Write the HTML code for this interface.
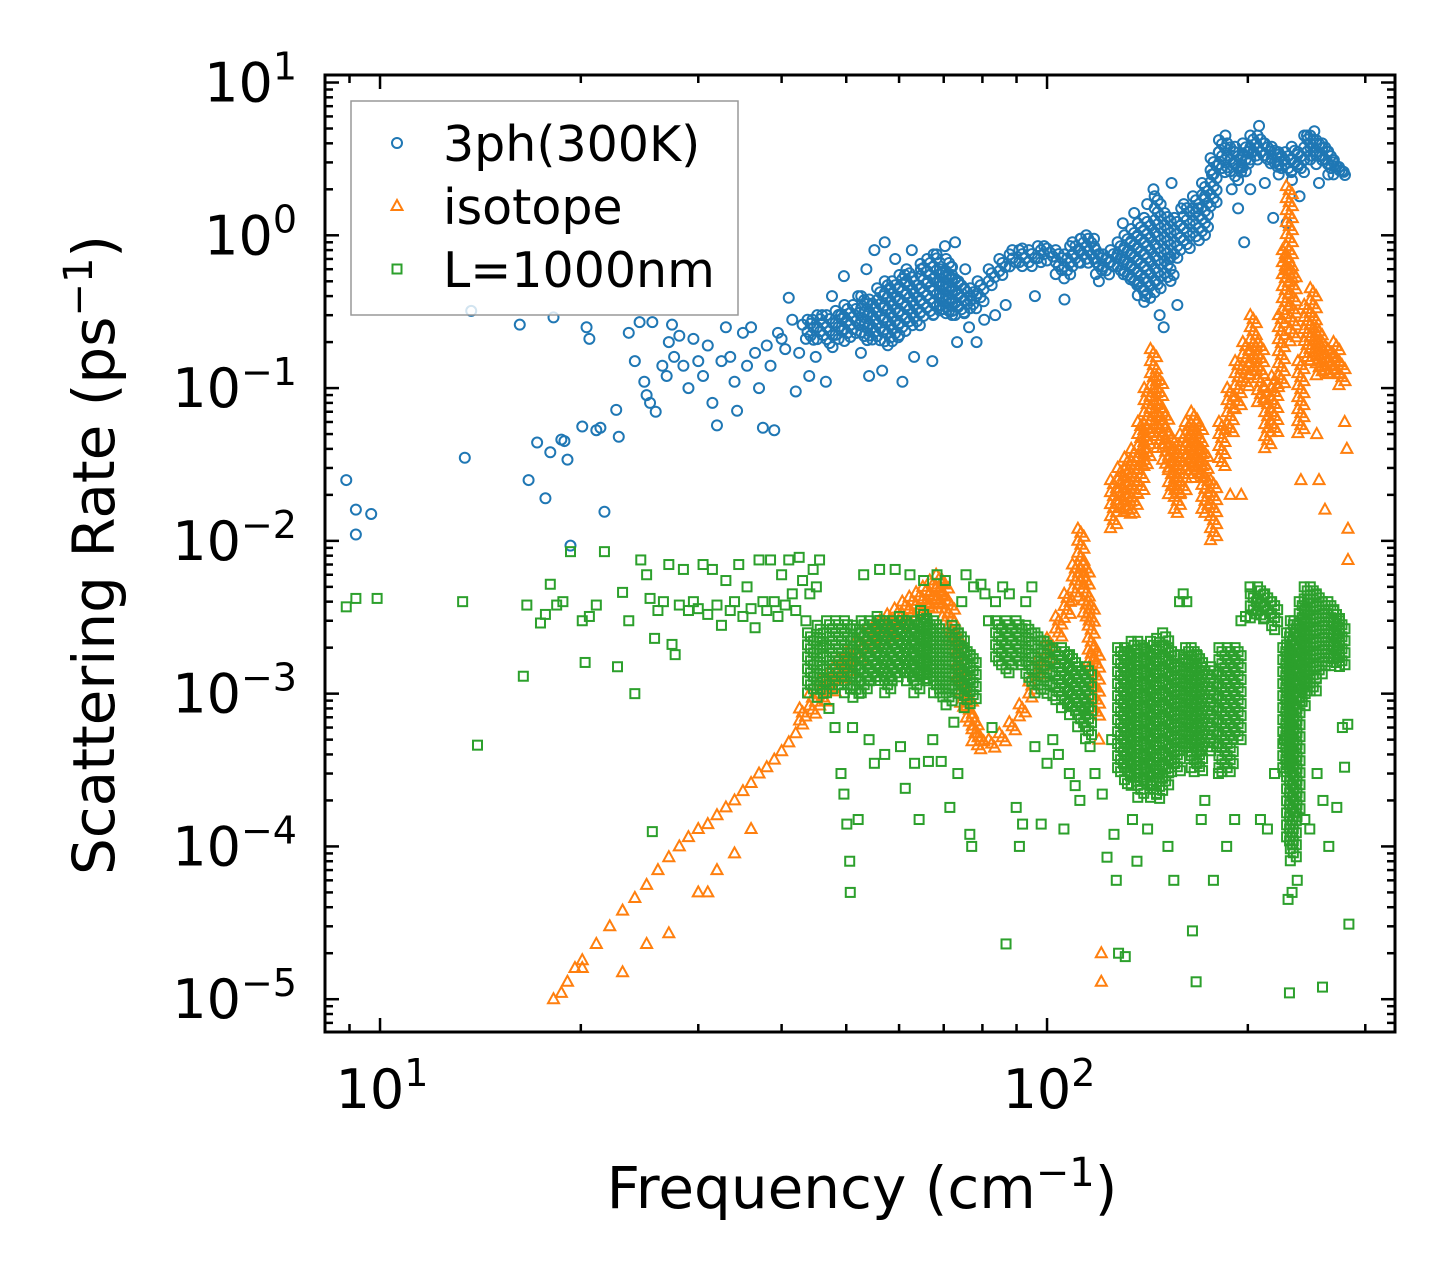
<!DOCTYPE html>
<html><head><meta charset="utf-8">
<style>
html,body{margin:0;padding:0;background:#fff;}
svg{display:block;font-family:"DejaVu Sans","Liberation Sans",sans-serif;}
</style></head>
<body>
<svg id="chart" width="1455" height="1282" viewBox="0 0 1455 1282" xmlns="http://www.w3.org/2000/svg">
<rect width="1455" height="1282" fill="#fff"/>
<g id="marks"></g>
<g id="axes"></g>
</svg>
<script>
// ---- axis domains ----
const xDomain = [8.27, 332.4];
const yDomain = [6.1e-6, 11.2];
const xTickValues = [10, 100];
const xTickLabels = ["1", "2"];
const yTickValues = [10, 1, 0.1, 0.01, 0.001, 0.0001, 0.00001];
const yTickLabels = ["1", "0", "\u22121", "\u22122", "\u22123", "\u22124", "\u22125"];

// ---- 3ph (300K): scattered points [freq, rate] ----
const threePhPoints = [[8.9,0.025],[9.2,0.016],[9.2,0.011],[9.7,0.015],[13.4,0.035],[13.7,0.32],[16.2,0.26],[16.7,0.025],[17.2,0.044],[17.7,0.019],[18.0,0.038],[18.2,0.29],[18.7,0.046],[18.9,0.045],[19.1,0.034],[19.3,0.0093],[20.1,0.056],[20.4,0.25],[20.6,0.21],[21.1,0.053],[21.4,0.055],[21.7,0.0155],[22.6,0.072],[22.8,0.048],[23.6,0.23],[24.1,0.15],[24.5,0.27],[24.9,0.11],[25.1,0.09],[25.4,0.08],[25.6,0.27],[25.9,0.07],[26.5,0.14],[26.9,0.12],[27.1,0.2],[27.4,0.26],[27.6,0.16],[28.1,0.22],[28.5,0.14],[29.0,0.1],[29.5,0.21],[30.0,0.15],[30.5,0.12],[31.0,0.19],[31.5,0.08],[32.0,0.057],[32.5,0.15],[33.0,0.25],[33.5,0.16],[34.0,0.11],[34.3,0.071],[35.0,0.23],[35.5,0.14],[36.0,0.25],[36.5,0.17],[37.0,0.1],[37.5,0.055],[38.0,0.19],[38.5,0.14],[39.0,0.053],[39.5,0.23],[40.0,0.21],[40.5,0.18],[41.0,0.39],[41.5,0.28],[42.0,0.095],[42.5,0.17],[43.0,0.26],[43.5,0.21],[44.0,0.12],[44.5,0.28],[45.0,0.16],[46.0,0.3],[46.6,0.11],[47.6,0.4],[49.1,0.3],[49.6,0.54],[52.1,0.4],[52.6,0.17],[53.6,0.6],[54.1,0.12],[55.1,0.8],[56.6,0.13],[57.1,0.9],[58.1,0.45],[59.2,0.7],[60.7,0.11],[61.2,0.55],[62.7,0.8],[63.2,0.16],[64.7,0.6],[66.3,0.5],[67.3,0.15],[68.3,0.75],[70.3,0.85],[71.8,0.62],[72.8,0.9],[73.3,0.2],[75.4,0.6],[76.4,0.25],[78.4,0.2],[80.5,0.28],[83.6,0.3],[86.7,0.35],[88.7,0.8],[91.8,0.82],[95.9,0.4],[99,0.85],[106.2,0.38],[108.3,0.85],[112.4,0.95],[114.5,1.0],[117.6,0.95],[119.6,0.5],[129.9,1.2],[135.1,1.4],[137.2,0.5],[140.3,0.4],[141.3,1.6],[144.4,2.0],[145.4,0.5],[147.5,0.3],[149.6,0.25],[152.7,0.7],[153.7,2.2],[154.8,0.55],[156.8,0.35],[158.9,1.5],[168.3,1.5],[172.5,1.8],[176.7,2.5],[180.9,3.5],[185.1,4.5],[189.2,2.0],[191.3,3.8],[193.4,1.5],[195.5,2.8],[197.5,0.9],[199.6,3.5],[201.7,2.0],[207.9,5.2],[212.1,2.2],[218.3,1.3],[222.5,2.5],[228.7,1.2],[232.9,2.3],[239.1,1.8],[245.3,4.5],[251.6,4.8],[255.7,2.2],[264,2.5],[278.5,2.6]];
// ---- 3ph dense band: freq, lower, upper ----
const threePhBandF = [44.2,45.7,47.2,48.7,50.2,51.7,53.2,54.7,56.2,57.7,59.2,60.7,62.2,63.8,65.3,66.8,68.3,69.8,71.3,72.8,74.4,75.9,77.5,79.5,82.6,85.7,88.8,91.8,94.9,97.9,101,104.1,107.2,110.3,113.4,116.5,119.6,122.6,125.8,128.9,132,135.1,138.2,141.3,146.5,151.6,156.8,162,167.2,172.5,177.7,182.9,188.2,193.4,198.6,203.8,209,214.2,219.4,224.6,229.9,235.1,240.3,245.5,250.7,255.9,261.2,266.4,271.6,276.8];
const threePhBandLo = [0.2,0.2,0.18,0.2,0.2,0.22,0.2,0.2,0.2,0.18,0.2,0.22,0.25,0.25,0.28,0.3,0.3,0.3,0.3,0.3,0.3,0.3,0.32,0.35,0.45,0.55,0.6,0.62,0.62,0.65,0.65,0.55,0.5,0.6,0.65,0.65,0.55,0.55,0.6,0.55,0.5,0.45,0.4,0.35,0.4,0.5,0.7,0.8,0.9,1.0,1.5,2.5,2.5,2.2,2.5,3,3,2.8,2.8,2.6,2.5,2.6,2.5,3,3,2.8,2.8,2.6,2.5,2.4];
const threePhBandHi = [0.28,0.3,0.3,0.32,0.35,0.35,0.4,0.38,0.45,0.5,0.5,0.55,0.6,0.5,0.65,0.7,0.75,0.6,0.7,0.55,0.5,0.45,0.45,0.5,0.6,0.7,0.75,0.8,0.8,0.85,0.82,0.8,0.75,0.9,0.95,0.95,0.8,0.75,0.8,0.9,1.0,1.1,1.2,1.3,1.8,1.4,1.3,1.6,1.8,2.2,3.2,4.2,4,3.5,4,4.5,4.5,4,3.8,3.5,3.5,3.8,3.5,4.5,4.5,4.2,4,3.5,3,2.8];

// ---- isotope ----
const isotopePoints = [[18.2,1e-5],[18.7,1.1e-5],[19.1,1.3e-5],[19.6,1.6e-5],[20.1,1.8e-5],[21.1,2.3e-5],[22.1,3e-5],[23.1,3.8e-5],[24.1,4.6e-5],[25.1,5.6e-5],[26.1,7e-5],[27.1,8.5e-5],[28.1,1e-4],[29.0,1.15e-4],[30.0,1.3e-4],[31.0,1.4e-4],[32.0,1.6e-4],[33.0,1.8e-4],[34.0,2e-4],[35.0,2.3e-4],[36.0,2.6e-4],[37.0,3e-4],[38.0,3.3e-4],[39.0,3.7e-4],[40.0,4.2e-4],[41.0,4.8e-4],[42.0,5.5e-4],[20.1,1.6e-5],[23.1,1.5e-5],[25.1,2.3e-5],[27.1,2.7e-5],[30.0,5e-5],[31.0,5e-5],[32.0,7e-5],[34.0,9e-5],[36.0,1.3e-4],[120.6,2e-5],[120.6,1.3e-5],[119.6,5e-4],[117.6,1.1e-3],[188.2,2e-2],[195.5,2e-2],[255.7,2.5e-2],[261,1.6e-2],[282.6,1.2e-2],[282.6,7.5e-3],[281.5,4e-2],[279.4,6e-2],[253.7,5e-2],[240.2,2.5e-2]];
const isotopeBandF = [43.0,44.5,46.1,47.6,49.1,50.6,52.2,53.7,55.2,56.7,58.2,59.7,61.3,62.8,64.3,65.8,67.4,68.9,70.4,71.9,73.5,75,76.5,78,79.5,82.6,85.7,88.7,91.8,94.9,97.9,101,104.1,107.2,110.3,112.4,114.5,116.5,118.6,125.8,128.9,132,135.1,138.2,141.3,144.4,147.5,150.6,153.7,156.8,159.9,163,166.2,169.3,172.5,177.7,182.9,188.2,193.4,198.6,203.8,209,214.2,219.4,224.6,227.7,230.8,233.9,240.2,245.5,250.7,255.9,261.2,266.4,271.6,276.8];
const isotopeBandLo = [6e-4,7e-4,8e-4,1e-3,1.2e-3,1.4e-3,1.6e-3,1.8e-3,2e-3,2.2e-3,2.4e-3,2.6e-3,2.8e-3,3e-3,3.2e-3,3.4e-3,3.6e-3,3.8e-3,3e-3,2e-3,1.2e-3,8e-4,6e-4,4.8e-4,4.2e-4,4.2e-4,4.6e-4,5.5e-4,7e-4,9e-4,1.3e-3,1.7e-3,2.3e-3,3e-3,4e-3,5e-3,3e-3,1.5e-3,7e-4,0.012,0.015,0.015,0.015,0.02,0.03,0.05,0.04,0.03,0.02,0.015,0.02,0.025,0.03,0.025,0.015,0.01,0.03,0.05,0.07,0.1,0.12,0.08,0.04,0.05,0.1,0.3,0.5,0.2,0.05,0.15,0.15,0.12,0.12,0.12,0.12,0.1];
const isotopeBandHi = [8e-4,1e-3,1.2e-3,1.4e-3,1.7e-3,1.9e-3,2.2e-3,2.5e-3,2.7e-3,3e-3,3.3e-3,3.6e-3,4e-3,4.3e-3,4.6e-3,5e-3,5.5e-3,6e-3,5.5e-3,4e-3,2.5e-3,1.5e-3,1e-3,7e-4,5.5e-4,5e-4,5.5e-4,6.5e-4,8.5e-4,1.2e-3,1.7e-3,2.3e-3,3.2e-3,4.5e-3,7e-3,1.2e-2,7e-3,4e-3,2e-3,0.025,0.03,0.035,0.04,0.06,0.1,0.18,0.12,0.07,0.05,0.04,0.05,0.06,0.07,0.06,0.04,0.025,0.06,0.1,0.15,0.2,0.3,0.2,0.1,0.12,0.3,0.8,2.1,0.6,0.15,0.35,0.45,0.25,0.2,0.18,0.2,0.15];

// ---- L=1000nm ----
const boundaryPoints = [[8.9,3.7e-3],[9.2,4.2e-3],[9.9,4.2e-3],[13.3,4e-3],[14.0,4.6e-4],[16.4,1.3e-3],[16.6,3.8e-3],[17.4,2.9e-3],[17.7,3.3e-3],[18.0,5.2e-3],[18.4,3.8e-3],[18.8,4e-3],[19.3,8.5e-3],[20.1,3e-3],[20.3,1.6e-3],[20.6,3.2e-3],[21.1,3.8e-3],[21.7,8.5e-3],[22.7,1.5e-3],[23.1,4.6e-3],[23.6,3e-3],[24.1,1e-3],[24.6,7.5e-3],[25.1,6e-3],[25.4,4.2e-3],[25.6,1.25e-4],[25.8,2.3e-3],[26.1,3.5e-3],[26.6,4e-3],[27.1,7e-3],[27.4,2.1e-3],[27.7,1.8e-3],[28.1,3.8e-3],[28.5,6.5e-3],[29.0,3.5e-3],[29.5,4e-3],[30,3.6e-3],[30.5,7e-3],[31,3.3e-3],[31.5,6.5e-3],[32,3.8e-3],[32.5,2.8e-3],[33,5.5e-3],[33.5,3.5e-3],[34,4e-3],[34.5,7e-3],[35,3.2e-3],[35.5,5e-3],[36,3.6e-3],[36.5,2.7e-3],[37,7.5e-3],[37.5,4e-3],[38,3.5e-3],[38.5,7.5e-3],[39,4e-3],[39.5,3.2e-3],[40,6e-3],[40.5,3.8e-3],[41,7.5e-3],[41.5,4.5e-3],[42,3.5e-3],[42.5,7.8e-3],[43,5.5e-3],[43.5,3e-3],[44.1,4.5e-3],[44.6,6.5e-3],[45.1,5e-3],[45.6,7.5e-3],[46.1,2e-3],[46.6,1.2e-3],[47.1,8e-4],[48.1,6e-4],[49.1,3e-4],[49.6,2.2e-4],[50.1,1.4e-4],[50.6,8e-5],[50.7,5e-5],[51.1,6e-4],[52.1,1.5e-4],[53.1,6e-3],[54.1,5e-4],[55.1,3.5e-4],[56.1,6.5e-3],[57.1,4e-4],[59.2,6.5e-3],[60.3,4.5e-4],[61.3,2.4e-4],[62.3,6e-3],[63.3,3.5e-4],[64.3,1.5e-4],[65.3,5.5e-3],[66.4,3.6e-4],[67.4,5e-4],[68.4,6e-3],[69.4,3.6e-4],[70.4,5.5e-3],[71.5,1.8e-4],[72.5,6.5e-4],[73.5,3e-4],[74.5,4e-3],[75.6,6e-3],[76.6,1.2e-4],[77.1,1e-4],[77.6,5e-3],[79.6,5.2e-3],[80.7,4.5e-3],[81.7,3e-3],[82.7,6e-4],[83.7,4e-3],[85.8,5e-3],[86.8,2.3e-5],[87.8,4.5e-3],[89.9,1.8e-4],[90.9,1e-4],[91.9,1.4e-4],[92.9,4e-3],[94.9,5e-3],[95.9,4.5e-4],[98,1.4e-4],[100,3.5e-4],[102,5e-4],[104,4e-4],[106,1.3e-4],[108,3e-4],[110.2,2.5e-4],[112,2e-4],[114,8e-4],[116,4.5e-4],[118,3e-4],[121,2.2e-4],[123,8.5e-5],[125,5e-4],[126,1.2e-4],[127,6e-5],[128,2e-5],[131,1.9e-5],[134.3,1.5e-4],[136.4,8e-5],[139.5,3.5e-4],[141.5,1.3e-4],[143.6,2.5e-4],[146.6,3e-4],[151.8,1e-4],[154.9,6e-5],[158,4e-3],[160,4.5e-3],[162,4e-3],[165.2,2.8e-5],[167.3,1.3e-5],[170.3,1.5e-4],[172.4,2e-4],[177.6,6e-5],[180.7,3e-4],[185.9,1e-4],[191.1,1.5e-4],[195.3,3e-3],[198.4,3.2e-3],[201.5,5e-3],[208.9,1.5e-4],[214,1.3e-4],[219.3,3e-4],[230.9,1.1e-5],[226.7,5e-4],[229.8,4.5e-5],[233,5e-5],[237.2,6e-5],[258.8,1.2e-5],[243.5,1.5e-4],[247.7,1.3e-4],[254,3e-4],[259.2,2e-4],[264.5,1e-4],[271.9,1.8e-4],[277.2,6e-4],[279.3,3.3e-4],[283.5,3.1e-5],[282.4,6.3e-4]];
const boundaryBandF = [44.2,45.7,47.2,48.7,50.2,51.7,53.2,54.7,56.2,57.7,59.2,60.7,62.2,63.8,65.3,66.8,68.3,69.8,71.3,72.8,74.4,75.9,77.5,84.6,87.7,90.8,93.9,96.9,100,103.1,106.2,109.2,112.3,115.4,128.9,132,135.1,138.2,141.3,144.4,147.5,150.6,153.7,156.8,159.9,163,166.2,169.3,172.5,177.7,182.9,188.2,193.4,203.8,209,214.2,219.4,228,231,234,237,241.3,245.5,250.7,255.9,261.2,266.4,271.6,276.8];
const boundaryBandLo = [1e-3,9e-4,1e-3,1.1e-3,1e-3,9e-4,1e-3,1.2e-3,1.2e-3,1e-3,1.2e-3,1.3e-3,1.2e-3,1e-3,1.2e-3,1.2e-3,1e-3,9e-4,8e-4,1e-3,1e-3,8e-4,9e-4,1.5e-3,1.3e-3,1.5e-3,1.2e-3,1e-3,1e-3,9e-4,8e-4,7e-4,6e-4,5e-4,3e-4,2.5e-4,2.5e-4,2e-4,2.5e-4,2e-4,2e-4,2.5e-4,3e-4,3e-4,4e-4,4e-4,3e-4,3e-4,4e-4,4e-4,3e-4,3e-4,5e-4,3e-3,3e-3,3e-3,2.5e-3,3e-4,1e-4,8e-5,1.5e-4,8e-4,1e-3,1e-3,1.2e-3,1.5e-3,1.5e-3,1.5e-3,1.5e-3];
const boundaryBandHi = [2.5e-3,2.8e-3,3e-3,3e-3,3e-3,2.8e-3,3e-3,3e-3,3.2e-3,3e-3,3e-3,3.2e-3,3e-3,3e-3,3.5e-3,3e-3,3e-3,2.5e-3,2.5e-3,2.8e-3,2.5e-3,2e-3,1.8e-3,3e-3,3e-3,3e-3,2.8e-3,2.5e-3,2.2e-3,2e-3,2e-3,1.8e-3,1.5e-3,1.5e-3,2e-3,2e-3,2.2e-3,2.2e-3,2e-3,2.2e-3,2.3e-3,2.5e-3,2e-3,1.5e-3,1.8e-3,2e-3,2e-3,1.8e-3,1.5e-3,1.5e-3,2e-3,2e-3,2e-3,4.5e-3,5e-3,4.5e-3,4e-3,2e-3,2.5e-3,3e-3,3e-3,4e-3,5e-3,5e-3,4.5e-3,4e-3,4e-3,3.5e-3,3e-3];

// ---- geometry ----
const plot = {left: 325, right: 1395, top: 75, bottom: 1032};
const NS = "http://www.w3.org/2000/svg";
function xScale(v){ const a=Math.log10(xDomain[0]), b=Math.log10(xDomain[1]); return plot.left + (Math.log10(v)-a)/(b-a)*(plot.right-plot.left); }
function yScale(v){ const a=Math.log10(yDomain[0]), b=Math.log10(yDomain[1]); return plot.bottom - (Math.log10(v)-a)/(b-a)*(plot.bottom-plot.top); }
function mk(tag, attrs, parent){ const e=document.createElementNS(NS, tag); for (const k in attrs) e.setAttribute(k, attrs[k]); parent.appendChild(e); return e; }

const marks = document.getElementById('marks');
const axes = document.getElementById('axes');
const colors = {blue:"#1f77b4", orange:"#ff7f0e", green:"#2ca02c"};

function drawMarker(kind, cx, cy, parent){
  let el;
  if (kind === 'circle') {
    el = mk('circle', {cx:cx, cy:cy, r:5, fill:'none', stroke:colors.blue, 'stroke-width':2}, parent);
  } else if (kind === 'tri') {
    el = mk('polygon', {points:`${cx},${cy-6} ${cx-5.5},${cy+4} ${cx+5.5},${cy+4}`, fill:'none', stroke:colors.orange, 'stroke-width':2}, parent);
  } else {
    el = mk('rect', {x:cx-4.5, y:cy-4.5, width:9, height:9, fill:'none', stroke:colors.green, 'stroke-width':2}, parent);
  }
  return el;
}
function drawSeries(name, kind, points, bandF, bandLo, bandHi){
  const g = mk('g', {}, marks);
  
  
  for (let i=0;i<bandF.length;i++){
    const x = xScale(bandF[i]);
    const y1 = yScale(bandHi[i]), y2 = yScale(bandLo[i]);
    let k = 0;
    for (let y=y1; y<=y2+0.1; y+=4){
      const m = drawMarker(kind, x + ((k%3)-1)*3, y, g);
      
      
      k++;
    }
  }
  for (const p of points){
    const m = drawMarker(kind, xScale(p[0]), yScale(p[1]), g);
    
    
  }
}
drawSeries('3ph', 'circle', threePhPoints, threePhBandF, threePhBandLo, threePhBandHi);
drawSeries('isotope', 'tri', isotopePoints, isotopeBandF, isotopeBandLo, isotopeBandHi);
drawSeries('boundary', 'square', boundaryPoints, boundaryBandF, boundaryBandLo, boundaryBandHi);

// ---- ticks ----
function tick(x1,y1,x2,y2,name){
  const t = mk('line', {x1:x1,y1:y1,x2:x2,y2:y2,stroke:'#000','stroke-width':2.5}, axes);
  
  
}
for (let d=0; d<=3; d++){
  for (let m=1; m<=9; m++){
    const v = m*Math.pow(10,d);
    if (v < xDomain[0] || v > xDomain[1]) continue;
    const x = xScale(v), len = m===1?14:8;
    tick(x,plot.bottom,x,plot.bottom-len,'x-tick');
    tick(x,plot.top,x,plot.top+len,'x-tick-top');
  }
}
for (let d=-6; d<=1; d++){
  for (let m=1; m<=9; m++){
    const v = m*Math.pow(10,d);
    if (v < yDomain[0] || v > yDomain[1]) continue;
    const y = yScale(v), len = m===1?14:8;
    tick(plot.left,y,plot.left+len,y,'y-tick');
    tick(plot.right,y,plot.right-len,y,'y-tick-right');
  }
}
const frame = mk('rect', {x:plot.left, y:plot.top, width:plot.right-plot.left, height:plot.bottom-plot.top, fill:'none', stroke:'#000', 'stroke-width':3}, axes);



// tick labels
xTickValues.forEach((v,i)=>{
  const t = mk('text', {x:xScale(v)+2, y:1108, 'font-size':54, 'text-anchor':'middle', fill:'#000'}, axes);
  
  
  const a = mk('tspan', {}, t);
  a.textContent = '10';
  const s = mk('tspan', {dy:-22, 'font-size':38}, t);
  s.textContent = xTickLabels[i];
});
yTickValues.forEach((v,i)=>{
  const t = mk('text', {x:297, y:yScale(v)+19, 'font-size':54, 'text-anchor':'end', fill:'#000'}, axes);
  
  
  const a = mk('tspan', {}, t);
  a.textContent = '10';
  const s = mk('tspan', {dy:-22, 'font-size':38}, t);
  s.textContent = yTickLabels[i];
});

// axis titles
const xt = mk('text', {x:862, y:1208, 'font-size':58, 'text-anchor':'middle', fill:'#000'}, axes);


xt.innerHTML = 'Frequency (cm<tspan dy="-22" font-size="40">\u22121</tspan><tspan dy="22">)</tspan>';
const yt = mk('text', {x:0, y:0, 'font-size':58, 'text-anchor':'middle', fill:'#000', transform:'translate(114,555) rotate(-90)'}, axes);


yt.innerHTML = 'Scattering Rate (ps<tspan dy="-22" font-size="40">\u22121</tspan><tspan dy="22">)</tspan>';

// legend
const lg = mk('g', {}, axes);


mk('rect', {x:351, y:101, width:387, height:214, fill:'#fff', 'fill-opacity':0.8, stroke:'#999', 'stroke-width':1.5}, lg);
const legendLabels = ['3ph(300K)', 'isotope', 'L=1000nm'];
const legendKinds = ['circle', 'tri', 'square'];
legendLabels.forEach((lab,i)=>{
  const cy = 143 + i*63;
  const e = mk('g', {}, lg);
  
  
  drawMarker(legendKinds[i], 397, cy, e);
  const t = mk('text', {x:443, y:cy+18, 'font-size':49, fill:'#000'}, e);
  t.textContent = lab;
});
</script>
</body></html>
